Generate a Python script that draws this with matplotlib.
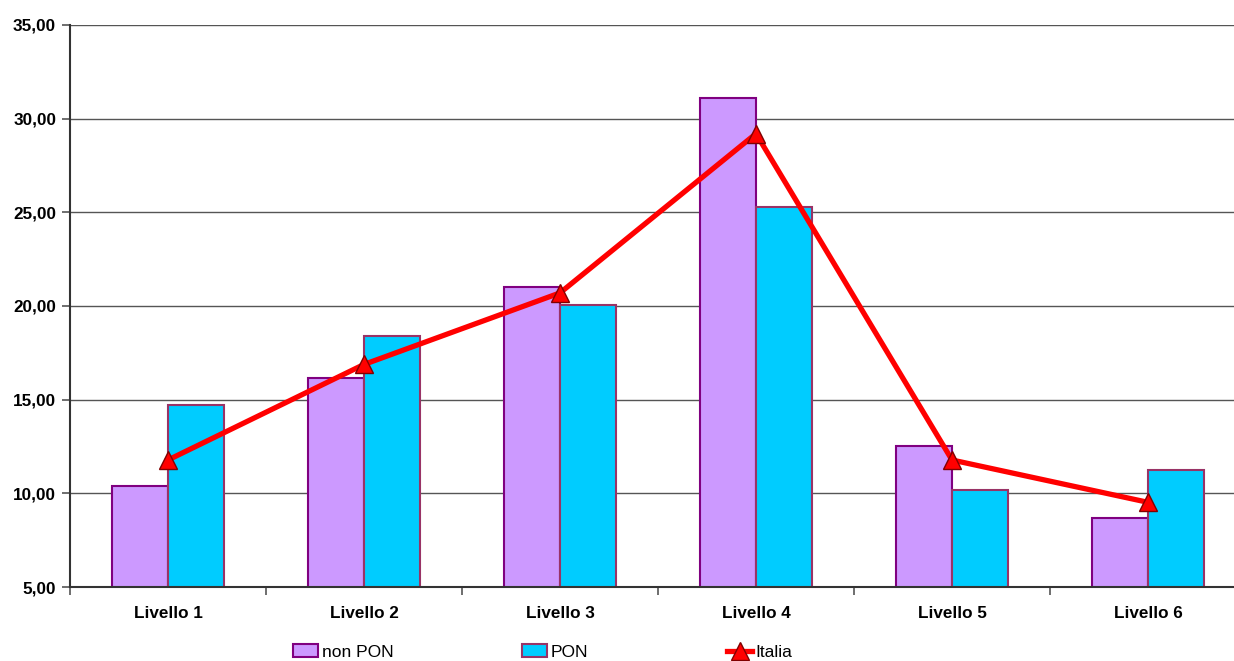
import numpy as np
import matplotlib.pyplot as plt
from matplotlib.ticker import FuncFormatter, FixedLocator

# dati
livelli = ["Livello 1", "Livello 2", "Livello 3", "Livello 4", "Livello 5", "Livello 6"]
non_pon = [10.40, 16.15, 21.02, 31.11, 12.55, 8.68]
pon = [14.72, 18.42, 20.06, 25.28, 10.18, 11.25]
italia = [11.78, 16.88, 20.70, 29.20, 11.78, 9.52]

plt.rcParams['font.family'] = ['Liberation Sans', 'DejaVu Sans']

fig = plt.figure(figsize=(12.34, 6.61), dpi=100)
ax = fig.add_axes([70 / 1234, 74 / 661, 1176 / 1234, 562 / 661])

x = np.arange(len(livelli))
w = 0.2857

b1 = ax.bar(x - w / 2, non_pon, w, color='#CC99FF', edgecolor='#800080',
            linewidth=1.5, label='non PON', zorder=2)
b2 = ax.bar(x + w / 2, pon, w, color='#00CCFF', edgecolor='#993366',
            linewidth=1.5, label='PON', zorder=2)
l1, = ax.plot(x, italia, color='#FF0000', linewidth=3.8, marker='^', markersize=13,
              markerfacecolor='#FF0000', markeredgecolor='#800000', markeredgewidth=1,
              label='Italia', zorder=3)

ax.set_ylim(5, 35)
ax.set_xlim(-0.5, len(livelli) - 0.5)
ax.set_yticks(np.arange(5, 36, 5))
ax.yaxis.set_major_formatter(FuncFormatter(lambda v, p: f"{v:.2f}".replace('.', ',')))
ax.set_xticks(x)
ax.set_xticklabels(livelli)
ax.xaxis.set_minor_locator(FixedLocator(np.arange(-0.5, len(livelli), 1)))
ax.tick_params(axis='x', which='major', length=0, pad=14)
ax.tick_params(axis='x', which='minor', length=6, width=1.2, color='#555555')
ax.tick_params(axis='y', length=6, width=1.2, color='#555555', pad=4)
for lab in ax.get_xticklabels() + ax.get_yticklabels():
    lab.set_fontweight('bold')
    lab.set_fontsize(12.3)

ax.grid(axis='y', color='#555555', linewidth=1, zorder=0)
ax.set_axisbelow(True)
for s in ['top', 'right']:
    ax.spines[s].set_visible(False)
for s in ['left', 'bottom']:
    ax.spines[s].set_linewidth(1.5)
    ax.spines[s].set_color('#333333')

# legenda: tre voci separate, come nell'originale
for h, lab, xpos in [(b1, 'non PON', 293), (b2, 'PON', 522), (l1, 'Italia', 727)]:
    fig.legend(handles=[h], labels=[lab], loc='center left',
               bbox_to_anchor=(xpos / 1234, 1 - 652 / 661), frameon=False,
               prop={'family': ['Liberation Sans Narrow', 'Liberation Sans'], 'size': 12.5},
               handlelength=1.45, handleheight=0.7,
               handletextpad=0.2, borderpad=0, borderaxespad=0)

fig.savefig('out.png', dpi=100)
